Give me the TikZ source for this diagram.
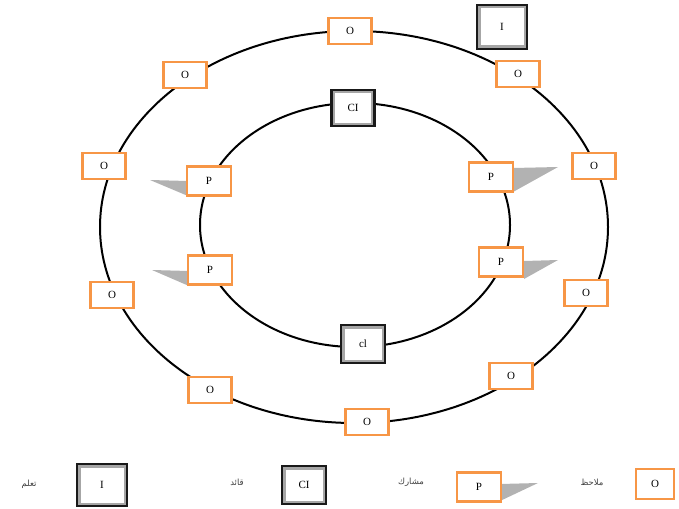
\documentclass[tikz,border=0pt]{standalone}
\usepackage{fontspec}
\setmainfont{Liberation Serif}
\newfontfamily\arabicfont[Script=Arabic]{DejaVu Sans}
\TeXXeTstate=1
\definecolor{obsorange}{HTML}{F79646}
\begin{document}
\begin{tikzpicture}[x=1pt,y=-1pt,
  ring/.style={draw=black, line width=2pt},
  obs/.style={draw=obsorange, line width=2.8pt, fill=white, minimum width=43pt, minimum height=26pt, inner sep=0pt, font=\fontsize{11}{12}\selectfont},
  part/.style={obs, minimum width=44pt, minimum height=29pt},
  lead/.style={draw=black!90, line width=2.8pt, fill=white, inner sep=0pt, font=\fontsize{11}{12}\selectfont,
    path picture={\draw[black!35, line width=7pt] (path picture bounding box.south west) rectangle (path picture bounding box.north east);}},
  tail/.style={fill=black!30, draw=none},
  lbl/.style={font=\arabicfont\fontsize{8.5}{9}\selectfont, text=black!75}
]
\useasboundingbox (0,0) rectangle (679,508);
% rings
\draw[ring] (354,227) ellipse [x radius=254, y radius=196];
\draw[ring] (355,225) ellipse [x radius=155, y radius=122];
% tails of participants
\fill[tail] (150,180) -- (188,181) -- (188,196) -- cycle;
\fill[tail] (152,270) -- (189,271) -- (189,286) -- cycle;
\fill[tail] (513,168) -- (558,167) -- (513,192) -- cycle;
\fill[tail] (524,261) -- (558,260) -- (524,279) -- cycle;
% outer observers
\node[obs] (o1) at (350,31) {O};
\node[obs] (o2) at (185,75) {O};
\node[obs] (o3) at (518,74) {O};
\node[obs] (o4) at (104,166) {O};
\node[obs] (o5) at (594,166) {O};
\node[obs] (o6) at (112,295) {O};
\node[obs] (o7) at (586,293) {O};
\node[obs] (o8) at (210,390) {O};
\node[obs] (o9) at (511,376) {O};
\node[obs] (o10) at (367,422) {O};
% learner
\node[lead, minimum width=50pt, minimum height=44pt] (lr) at (502,27) {I};
% inner ring
\node[lead, minimum width=43pt, minimum height=36pt] (c1) at (353,108) {CI};
\node[lead, minimum width=44pt, minimum height=38pt] (c2) at (363,344) {cl};
\node[part] (p1) at (209,181) {P};
\node[part] (p2) at (210,270) {P};
\node[part] (p3) at (491,177) {P};
\node[part] (p4) at (501,262) {P};
% legend
\node[lbl] (t1) at (29,484) {\beginR تعلم\endR};
\node[lead, minimum width=50pt, minimum height=42pt] (k1) at (102,485) {I};
\node[lbl] (t2) at (237,482) {\beginR قائد\endR};
\node[lead, minimum width=44pt, minimum height=38pt] (k2) at (304,485) {CI};
\node[lbl] (t3) at (411,482) {\beginR مشارك\endR};
\fill[tail] (500,484) -- (538,483) -- (500,501) -- cycle;
\node[part] (k3) at (479,487) {P};
\node[lbl] (t4) at (592,482) {\beginR ملاحظ\endR};
\node[obs, minimum width=38pt, minimum height=30pt] (k4) at (655,484) {O};
\end{tikzpicture}
\end{document}
